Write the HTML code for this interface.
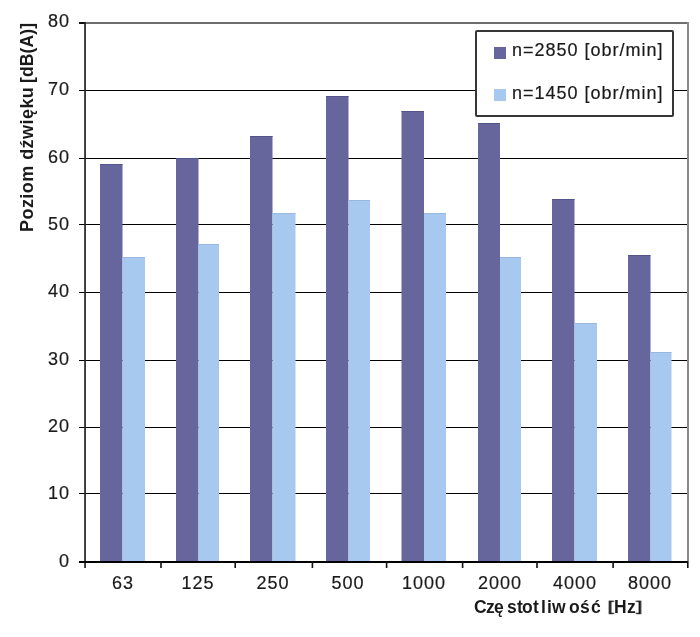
<!DOCTYPE html>
<html><head><meta charset="utf-8">
<style>
html,body{margin:0;padding:0;background:#fff;width:700px;height:637px;overflow:hidden;}
body{position:relative;font-family:"Liberation Sans",sans-serif;color:#1a1a1a;}
.yl,.xl,.xt,.yt,.lt{will-change:transform;}
.yl,.xl,.lt{-webkit-text-stroke:0.2px #1a1a1a;}
svg{position:absolute;left:0;top:0;}
.yl{position:absolute;left:20px;width:50px;height:20px;line-height:20px;text-align:right;font-size:18px;letter-spacing:1px;}
.xl{position:absolute;top:573px;width:80px;height:20px;line-height:20px;text-align:center;font-size:18px;letter-spacing:1px;}
.xt{position:absolute;top:596.5px;font-size:17.5px;font-weight:bold;line-height:20px;white-space:nowrap;}
.yt{position:absolute;left:16.5px;top:231.5px;transform-origin:0 0;transform:rotate(-90deg);font-size:18px;font-weight:bold;line-height:20px;white-space:nowrap;letter-spacing:0.2px;}
.lg{position:absolute;left:475px;top:30px;width:195px;height:83px;border:2px solid #363636;border-radius:2px;background:#fff;}
.lm{position:absolute;width:12px;height:12px;}
.lt{position:absolute;font-size:18px;line-height:20px;white-space:nowrap;letter-spacing:1px;}
</style></head><body>
<svg width="700" height="637" shape-rendering="crispEdges">
<rect x="85" y="22" width="604" height="2" fill="#6e6e6e"/>
<rect x="687" y="22" width="2" height="539" fill="#8a8a8a"/>
<rect x="79" y="90" width="608" height="1" fill="#000"/>
<rect x="79" y="158" width="608" height="1" fill="#000"/>
<rect x="79" y="224" width="608" height="1" fill="#000"/>
<rect x="79" y="292" width="608" height="1" fill="#000"/>
<rect x="79" y="360" width="608" height="1" fill="#000"/>
<rect x="79" y="427" width="608" height="1" fill="#000"/>
<rect x="79" y="493" width="608" height="1" fill="#000"/>
<rect x="79" y="22" width="6" height="2" fill="#111"/>
<g shape-rendering="geometricPrecision">
<rect x="100" y="164" width="22.5" height="397" fill="#66659c"/>
<rect x="100" y="164" width="22.5" height="1" fill="#55548a"/>
<rect x="122.5" y="257" width="22.5" height="304" fill="#a7c9ef"/>
<rect x="122.5" y="257" width="22.5" height="1" fill="#98b9df"/>
<rect x="176" y="158" width="22.5" height="403" fill="#66659c"/>
<rect x="176" y="158" width="22.5" height="1" fill="#55548a"/>
<rect x="198.5" y="244" width="20.5" height="317" fill="#a7c9ef"/>
<rect x="198.5" y="244" width="20.5" height="1" fill="#98b9df"/>
<rect x="250" y="136" width="22.5" height="425" fill="#66659c"/>
<rect x="250" y="136" width="22.5" height="1" fill="#55548a"/>
<rect x="272.5" y="213" width="23.0" height="348" fill="#a7c9ef"/>
<rect x="272.5" y="213" width="23.0" height="1" fill="#98b9df"/>
<rect x="326" y="96" width="22.5" height="465" fill="#66659c"/>
<rect x="326" y="96" width="22.5" height="1" fill="#55548a"/>
<rect x="348.5" y="200" width="21.5" height="361" fill="#a7c9ef"/>
<rect x="348.5" y="200" width="21.5" height="1" fill="#98b9df"/>
<rect x="401.5" y="111" width="22.5" height="450" fill="#66659c"/>
<rect x="401.5" y="111" width="22.5" height="1" fill="#55548a"/>
<rect x="424" y="213" width="22" height="348" fill="#a7c9ef"/>
<rect x="424" y="213" width="22" height="1" fill="#98b9df"/>
<rect x="478" y="123" width="22" height="438" fill="#66659c"/>
<rect x="478" y="123" width="22" height="1" fill="#55548a"/>
<rect x="500" y="257" width="21" height="304" fill="#a7c9ef"/>
<rect x="500" y="257" width="21" height="1" fill="#98b9df"/>
<rect x="552" y="199" width="22.5" height="362" fill="#66659c"/>
<rect x="552" y="199" width="22.5" height="1" fill="#55548a"/>
<rect x="574.5" y="323" width="22.5" height="238" fill="#a7c9ef"/>
<rect x="574.5" y="323" width="22.5" height="1" fill="#98b9df"/>
<rect x="628" y="255" width="22.5" height="306" fill="#66659c"/>
<rect x="628" y="255" width="22.5" height="1" fill="#55548a"/>
<rect x="650.5" y="352" width="21.0" height="209" fill="#a7c9ef"/>
<rect x="650.5" y="352" width="21.0" height="1" fill="#98b9df"/>
</g>
<rect x="84.2" y="22" width="1.7" height="546" fill="#222" shape-rendering="geometricPrecision"/>
<rect x="79" y="561" width="609" height="2" fill="#000"/>
<rect x="160.20" y="561" width="1.6" height="7" fill="#111" shape-rendering="geometricPrecision"/>
<rect x="234.40" y="561" width="1.6" height="7" fill="#111" shape-rendering="geometricPrecision"/>
<rect x="311.60" y="561" width="1.6" height="7" fill="#111" shape-rendering="geometricPrecision"/>
<rect x="385.80" y="561" width="1.6" height="7" fill="#111" shape-rendering="geometricPrecision"/>
<rect x="461.80" y="561" width="1.6" height="7" fill="#111" shape-rendering="geometricPrecision"/>
<rect x="536.20" y="561" width="1.6" height="7" fill="#111" shape-rendering="geometricPrecision"/>
<rect x="612.30" y="561" width="1.6" height="7" fill="#111" shape-rendering="geometricPrecision"/>
<rect x="687" y="561" width="1.6" height="7" fill="#111" shape-rendering="geometricPrecision"/>
</svg>
<div class="yl" style="top:11px">80</div><div class="yl" style="top:78.5px">70</div><div class="yl" style="top:147px">60</div><div class="yl" style="top:214px">50</div><div class="yl" style="top:281px">40</div><div class="yl" style="top:349px">30</div><div class="yl" style="top:416px">20</div><div class="yl" style="top:483px">10</div><div class="yl" style="top:551px">0</div><div class="xl" style="left:82.5px">63</div><div class="xl" style="left:157.5px">125</div><div class="xl" style="left:232.75px">250</div><div class="xl" style="left:308.0px">500</div><div class="xl" style="left:383.75px">1000</div><div class="xl" style="left:459.5px">2000</div><div class="xl" style="left:534.5px">4000</div><div class="xl" style="left:609.75px">8000</div>
<div class="yt" style="letter-spacing:0.45px">Poziom dźwięku</div><div class="yt" style="top:83.3px;left:17.2px;font-size:17.5px;letter-spacing:0.15px">[dB(A)]</div>
<div class="xt" style="left:473.8px">C</div><div class="xt" style="left:486.1px">z</div><div class="xt" style="left:494.4px">ę</div><div class="xt" style="left:507.3px">s</div><div class="xt" style="left:517.3px">t</div><div class="xt" style="left:522.0px">o</div><div class="xt" style="left:533.3px">t</div><div class="xt" style="left:541.2px">l</div><div class="xt" style="left:546.5px">i</div><div class="xt" style="left:551.7px">w</div><div class="xt" style="left:568.7px">o</div><div class="xt" style="left:580.2px">ś</div><div class="xt" style="left:590.6px">ć</div><div class="xt" style="left:607.9px;transform:scale(1.15,0.8);transform-origin:50% 30%">[</div><div class="xt" style="left:614.4px">H</div><div class="xt" style="left:626.5px">z</div><div class="xt" style="left:635.9px;transform:scale(1.15,0.8);transform-origin:50% 30%">]</div>
<div class="lg">
<div class="lm" style="left:17px;top:15px;background:#66659c"></div>
<div class="lt" style="left:35px;top:8px">n=2850 [obr/min]</div>
<div class="lm" style="left:17px;top:57px;background:#a7c9ef"></div>
<div class="lt" style="left:35px;top:50.5px">n=1450 [obr/min]</div>
</div>
</body></html>
